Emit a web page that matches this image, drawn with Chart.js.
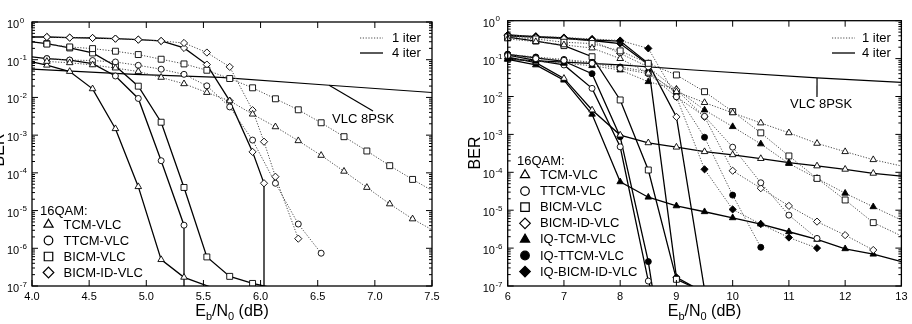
<!DOCTYPE html>
<html>
<head>
<meta charset="utf-8">
<script src="https://cdn.jsdelivr.net/npm/chart.js@4.4.0/dist/chart.umd.min.js"></script>
<style>
html, body { margin: 0; padding: 0; background: #fff; }
#wrap { position: relative; width: 912px; height: 324px; }
#left { position: absolute; left: 0; top: 0; }
#right { position: absolute; left: 455px; top: 0; }
</style>
</head>
<body>
<div id="wrap">
<canvas id="left" width="455" height="324"></canvas>
<canvas id="right" width="457" height="324"></canvas>
</div>
<script>
const FONT = '"Liberation Sans", Arial, Helvetica, sans-serif';

// tick labels
const xTicksL = [4.0, 4.5, 5.0, 5.5, 6.0, 6.5, 7.0, 7.5];
const xTicksR = [6, 7, 8, 9, 10, 11, 12, 13];
const yExps = [0, -1, -2, -3, -4, -5, -6, -7];

const legendL = ['TCM-VLC', 'TTCM-VLC', 'BICM-VLC', 'BICM-ID-VLC'];
const legendR = ['TCM-VLC', 'TTCM-VLC', 'BICM-VLC', 'BICM-ID-VLC', 'IQ-TCM-VLC', 'IQ-TTCM-VLC', 'IQ-BICM-ID-VLC'];

// ---- left panel, [Eb/N0 dB, BER] ----
const vlcL = [[4.0,0.056],[4.9,0.041],[5.65,0.034],[6.6,0.021],[7.5,0.0135]];
const tcm1L = [[4.13,0.09],[4.33,0.083],[4.53,0.073],[4.73,0.06],[4.93,0.0486],[5.13,0.034],[5.33,0.023],[5.53,0.0135],[5.73,0.0081],[5.93,0.0036],[6.13,0.00166],[6.33,0.00071],[6.53,0.00029],[6.73,0.00011],[6.93,4.1e-5],[7.13,1.5e-5],[7.33,6e-6],[7.5,3.1e-6]];
const tcm4L = [[4.0,0.088],[4.13,0.0715],[4.33,0.0487],[4.53,0.0169],[4.73,0.00148],[4.93,4.3e-5],[5.13,5e-7],[5.33,1.7e-7],[5.6,0.85e-7]];
const ttcm1L = [[4.13,0.107],[4.33,0.098],[4.53,0.095],[4.73,0.087],[4.93,0.071],[5.13,0.056],[5.33,0.041],[5.53,0.0203],[5.73,0.0056],[5.93,0.00074],[6.13,5.3e-5],[6.33,4.4e-6],[6.53,7.4e-7]];
const ttcm4L = [[4.0,0.119],[4.13,0.107],[4.33,0.097],[4.53,0.079],[4.73,0.037],[4.93,0.0094],[5.13,0.00021],[5.33,4.1e-6],[5.33,1e-8]];
const bicm1L = [[4.13,0.26],[4.33,0.218],[4.53,0.197],[4.73,0.168],[4.93,0.137],[5.13,0.103],[5.33,0.0774],[5.53,0.0526],[5.73,0.0317],[5.93,0.018],[6.13,0.0092],[6.33,0.0047],[6.53,0.00213],[6.73,0.00091],[6.93,0.00038],[7.13,0.000155],[7.33,6.7e-5],[7.5,3.4e-5]];
const bicm4L = [[4.0,0.296],[4.13,0.267],[4.33,0.205],[4.53,0.151],[4.73,0.0685],[4.93,0.0199],[5.13,0.0022],[5.33,4.1e-5],[5.53,5.9e-7],[5.73,1.8e-7],[5.93,1.17e-7],[6.1,0.9e-7]];
const bicmid1L = [[4.13,0.40],[4.33,0.385],[4.53,0.377],[4.73,0.362],[4.93,0.341],[5.13,0.314],[5.33,0.278],[5.53,0.155],[5.73,0.0645],[5.93,0.0046],[6.03,0.00067],[6.13,7.9e-5],[6.33,1.8e-6]];
const bicmid4L = [[4.0,0.40],[4.13,0.40],[4.33,0.385],[4.53,0.377],[4.73,0.362],[4.93,0.341],[5.13,0.314],[5.33,0.205],[5.53,0.0743],[5.73,0.0081],[5.93,0.00036],[6.03,5.3e-5],[6.03,1e-8]];

// ---- right panel ----
const vlcR = [[6.0,0.095],[8.0,0.068],[9.3,0.05],[11.5,0.031],[13.0,0.0237]];
const tcm1R = [[6.0,0.33],[6.5,0.28],[7.0,0.23],[7.5,0.19],[8.0,0.1],[8.5,0.041],[9.0,0.0134],[9.5,0.0069],[10.0,0.0037],[10.5,0.002],[11.0,0.0011],[11.5,0.00058],[12.0,0.00035],[12.5,0.000215],[13.0,0.000147]];
const tcm4R = [[6.0,0.11],[6.5,0.078],[7.0,0.03],[7.5,0.0044],[8.0,0.00096],[8.5,0.0006],[9.0,0.00046],[9.5,0.00035],[10.0,0.00029],[10.5,0.00023],[11.0,0.00018],[11.5,0.000147],[12.0,0.00012],[12.5,9.4e-5],[13.0,7.9e-5]];
const ttcm1R = [[6.0,0.12],[6.5,0.1],[7.0,0.09],[7.5,0.075],[8.0,0.055],[8.5,0.04],[9.0,0.0098],[9.5,0.003],[10.0,0.00046],[10.5,5.3e-5],[11.0,7.4e-6],[11.5,1.8e-6]];
const ttcm4R = [[6.0,0.124],[6.5,0.09],[7.0,0.068],[7.5,0.0164],[8.0,0.00047],[8.5,1.35e-7],[8.6,0.5e-7]];
const bicm1R = [[6.0,0.37],[6.5,0.33],[7.0,0.27],[7.5,0.25],[8.0,0.16],[8.5,0.075],[9.0,0.037],[9.5,0.0134],[10.0,0.004],[10.5,0.0011],[11.0,0.00027],[11.5,6.9e-5],[12.0,1.86e-5],[12.5,4.7e-6],[13.0,2.1e-6]];
const bicm4R = [[6.0,0.37],[6.5,0.29],[7.0,0.22],[7.5,0.112],[8.0,0.0081],[8.5,0.000115],[9.0,1.5e-7],[9.4,0.8e-7]];
const bicmid1R = [[6.0,0.40],[6.5,0.36],[7.0,0.33],[7.5,0.3],[8.0,0.137],[8.5,0.06],[9.0,0.015],[9.5,0.0029],[10.0,0.00011],[10.5,3.8e-5],[11.0,1.3e-5],[11.5,5e-6],[12.0,2.2e-6],[12.5,8.9e-7]];
const bicmid4R = [[6.0,0.42],[6.5,0.38],[7.0,0.35],[7.5,0.31],[8.0,0.29],[8.5,0.075],[9.0,0.0029],[9.5,0.8e-7]];
const iqtcm1R = [[6.0,0.1],[6.5,0.085],[7.0,0.075],[7.5,0.065],[8.0,0.05],[8.5,0.0246],[9.0,0.0155],[9.5,0.0044],[10.0,0.0016],[10.5,0.00056],[11.0,0.00017],[11.5,6.9e-5],[12.0,2.8e-5],[12.5,1.23e-5],[13.0,5.5e-6]];
const iqtcm4R = [[6.0,0.095],[6.5,0.068],[7.0,0.027],[7.5,0.0034],[8.0,5.6e-5],[8.5,2.2e-5],[9.0,1.3e-5],[9.5,9.1e-6],[10.0,6.3e-6],[10.5,4.3e-6],[11.0,2.7e-6],[11.5,1.7e-6],[12.0,9.6e-7],[12.5,6.9e-7],[13.0,4.4e-7]];
const iqttcm1R = [[6.0,0.13],[6.5,0.11],[7.0,0.095],[7.5,0.08],[8.0,0.06],[8.5,0.045],[9.0,0.012],[9.5,0.00084],[10.0,2.5e-5],[10.5,1.05e-6]];
const iqttcm4R = [[6.0,0.13],[6.5,0.105],[7.0,0.085],[7.5,0.04],[8.0,0.00087],[8.5,4.4e-7],[8.6,0.5e-7]];
const iqbicmid1R = [[6.0,0.42],[6.5,0.39],[7.0,0.36],[7.5,0.33],[8.0,0.3],[8.5,0.186],[9.0,0.0098],[9.5,0.00012],[10.0,1.05e-5],[10.5,4.3e-6],[11.0,1.9e-6],[11.5,1.0e-6]];
const iqbicmid4R = [[6.0,0.4],[6.5,0.37],[7.0,0.34],[7.5,0.3],[8.0,0.25],[8.5,0.07],[9.0,1.7e-7],[9.4,0.8e-7]];

// marker per scheme: [pointStyle, filled]
const MARK = {
  'TCM-VLC': ['triangle', false],
  'TTCM-VLC': ['circle', false],
  'BICM-VLC': ['rect', false],
  'BICM-ID-VLC': ['rectRot', false],
  'IQ-TCM-VLC': ['triangle', true],
  'IQ-TTCM-VLC': ['circle', true],
  'IQ-BICM-ID-VLC': ['rectRot', true]
};
const RAD = { triangle: 3.8, circle: 3, rect: 4.2, rectRot: 3.6 };
const LEGRAD = { triangle: 5.3, circle: 4.3, rect: 6, rectRot: 5.3 };

const seriesL = [
  ['TCM-VLC', 1, tcm1L], ['TTCM-VLC', 1, ttcm1L], ['BICM-VLC', 1, bicm1L], ['BICM-ID-VLC', 1, bicmid1L],
  ['TCM-VLC', 4, tcm4L], ['TTCM-VLC', 4, ttcm4L], ['BICM-VLC', 4, bicm4L], ['BICM-ID-VLC', 4, bicmid4L]
];
const seriesR = [
  ['TCM-VLC', 1, tcm1R], ['TTCM-VLC', 1, ttcm1R], ['BICM-VLC', 1, bicm1R], ['BICM-ID-VLC', 1, bicmid1R],
  ['IQ-TCM-VLC', 1, iqtcm1R], ['IQ-TTCM-VLC', 1, iqttcm1R], ['IQ-BICM-ID-VLC', 1, iqbicmid1R],
  ['TCM-VLC', 4, tcm4R], ['TTCM-VLC', 4, ttcm4R], ['BICM-VLC', 4, bicm4R], ['BICM-ID-VLC', 4, bicmid4R],
  ['IQ-TCM-VLC', 4, iqtcm4R], ['IQ-TTCM-VLC', 4, iqttcm4R], ['IQ-BICM-ID-VLC', 4, iqbicmid4R]
];

const DOT = [1.2, 1.6];

// layout of the two panels (pixels inside each canvas)
const PANELS = {
  left: {
    xmin: 4.0, xmax: 7.5, xticks: xTicksL, markAtMin: false,
    vlc: vlcL, leaderAt: 3, leaderEnd: [373, 111], vlcText: [332, 123],
    iterLine: [360, 383], iterText: 392, iterY: [38, 53],
    legend: legendL, legX: 40, legTitleY: 215, legMarkX: 48.5, legTextX: 63.5, legY0: 224.5, legStep: 16,
    berX: 4, berY: 150
  },
  right: {
    xmin: 6, xmax: 13, xticks: xTicksR, markAtMin: true,
    vlc: vlcR, leaderAt: 3, leaderEnd: [362, 97], vlcText: [335, 107.5],
    iterLine: [377, 400], iterText: 407, iterY: [38, 53],
    legend: legendR, legX: 62, legTitleY: 165, legMarkX: 70, legTextX: 85, legY0: 175, legStep: 16.1,
    berX: 25, berY: 153
  }
};

function datasetsFor(series, P) {
  const sets = series.map(([name, iter, pts]) => {
    const style = MARK[name][0], filled = MARK[name][1];
    return {
      label: name + ' ' + iter + ' iter',
      data: pts.map(p => ({ x: p[0], y: p[1] })),
      showLine: true,
      tension: 0,
      borderColor: iter === 1 ? '#4a4a4a' : '#000',
      borderWidth: iter === 1 ? 1 : 1.3,
      borderDash: iter === 1 ? DOT : [],
      pointStyle: style,
      pointRadius: c => {
        const p = c.raw;
        if (!p || p.y < 1e-7 || p.x >= P.xmax || (p.x <= P.xmin && !P.markAtMin)) return 0;
        return RAD[style];
      },
      pointHoverRadius: 0,
      pointBackgroundColor: filled ? '#000' : '#fff',
      pointBorderColor: '#000',
      pointBorderWidth: 0.9,
      clip: { left: 5, top: 5, right: 0, bottom: 0 }
    };
  });
  sets.push({
    label: 'VLC 8PSK',
    data: P.vlc.map(p => ({ x: p[0], y: p[1] })),
    showLine: true, tension: 0,
    borderColor: '#000', borderWidth: 1.2,
    pointRadius: 0, pointHoverRadius: 0,
    clip: { left: 0, top: 0, right: 0, bottom: 0 }
  });
  return sets;
}

function sub(ctx, parts, x, y) {
  // parts: [text, isSub]
  let w = 0;
  for (const [t, s] of parts) { ctx.font = (s ? '11px ' : '16px ') + FONT; w += ctx.measureText(t).width; }
  let cx = x - w / 2;
  ctx.textAlign = 'left'; ctx.textBaseline = 'alphabetic';
  for (const [t, s] of parts) {
    ctx.font = (s ? '11px ' : '16px ') + FONT;
    ctx.fillText(t, cx, s ? y + 4 : y);
    cx += ctx.measureText(t).width;
  }
}

const decor = {
  id: 'decor',
  afterDatasetsDraw(chart) {
    const P = PANELS[chart.canvas.id];
    const ctx = chart.ctx, a = chart.chartArea, xs = chart.scales.x, ys = chart.scales.y;
    ctx.save();
    ctx.strokeStyle = '#000';
    ctx.fillStyle = '#000';
    ctx.setLineDash([]);

    // frame
    ctx.lineWidth = 1.3;
    ctx.strokeRect(a.left, a.top, a.right - a.left, a.bottom - a.top);

    // inward ticks
    ctx.lineWidth = 1;
    ctx.beginPath();
    for (const e of yExps) {
      const y = ys.getPixelForValue(Math.pow(10, e));
      ctx.moveTo(a.left, y); ctx.lineTo(a.left + 6, y);
      ctx.moveTo(a.right, y); ctx.lineTo(a.right - 6, y);
      if (e < 0) {
        for (let m = 2; m < 10; m++) {
          const ym = ys.getPixelForValue(m * Math.pow(10, e));
          ctx.moveTo(a.left, ym); ctx.lineTo(a.left + 3, ym);
          ctx.moveTo(a.right, ym); ctx.lineTo(a.right - 3, ym);
        }
      }
    }
    for (const v of P.xticks) {
      const x = xs.getPixelForValue(v);
      ctx.moveTo(x, a.bottom); ctx.lineTo(x, a.bottom - 6);
      ctx.moveTo(x, a.top); ctx.lineTo(x, a.top + 6);
    }
    ctx.stroke();

    // y tick labels 10^e
    ctx.textAlign = 'left';
    ctx.textBaseline = 'alphabetic';
    for (const e of yExps) {
      const y = ys.getPixelForValue(Math.pow(10, e));
      ctx.font = '11px ' + FONT;
      const w = ctx.measureText('10').width;
      const x0 = a.left - 25;
      ctx.fillText('10', x0, y + 6);
      ctx.font = '8px ' + FONT;
      ctx.fillText(String(e), x0 + w + 0.5, y + 0.5);
    }

    // axis titles
    sub(ctx, [['E', false], ['b', true], ['/N', false], ['0', true], [' (dB)', false]], (a.left + a.right) / 2, 316);
    ctx.save();
    ctx.translate(P.berX, P.berY);
    ctx.rotate(-Math.PI / 2);
    ctx.font = '16px ' + FONT;
    ctx.textAlign = 'center';
    ctx.textBaseline = 'alphabetic';
    ctx.fillText('BER', 0, 0);
    ctx.restore();

    // VLC 8PSK label with leader
    const lp = P.vlc[P.leaderAt];
    ctx.lineWidth = 1.2;
    ctx.beginPath();
    ctx.moveTo(xs.getPixelForValue(lp[0]), ys.getPixelForValue(lp[1]));
    ctx.lineTo(P.leaderEnd[0], P.leaderEnd[1]);
    ctx.stroke();
    ctx.font = '13px ' + FONT;
    ctx.textAlign = 'left';
    ctx.fillText('VLC 8PSK', P.vlcText[0], P.vlcText[1]);

    // iteration key
    ctx.font = '13px ' + FONT;
    ctx.textBaseline = 'middle';
    ['1 iter', '4 iter'].forEach((t, i) => {
      const y = P.iterY[i];
      ctx.beginPath();
      ctx.strokeStyle = i === 0 ? '#4a4a4a' : '#000';
      ctx.lineWidth = i === 0 ? 1 : 1.3;
      ctx.setLineDash(i === 0 ? DOT : []);
      ctx.moveTo(P.iterLine[0], y); ctx.lineTo(P.iterLine[1], y);
      ctx.stroke();
      ctx.setLineDash([]);
      ctx.fillText(t, P.iterText, y + 0.5);
    });

    // scheme key
    ctx.strokeStyle = '#000';
    ctx.textBaseline = 'alphabetic';
    ctx.fillText('16QAM:', P.legX, P.legTitleY);
    ctx.lineWidth = 1.2;
    P.legend.forEach((name, i) => {
      const y = P.legY0 + i * P.legStep;
      const style = MARK[name][0], filled = MARK[name][1];
      ctx.fillStyle = filled ? '#000' : '#fff';
      Chart.helpers.drawPoint(ctx, { pointStyle: style, radius: LEGRAD[style], rotation: 0, borderWidth: 1.2 }, P.legMarkX, y);
      ctx.fillStyle = '#000';
      ctx.textBaseline = 'middle';
      ctx.fillText(name, P.legTextX, y + 0.5);
    });
    ctx.restore();
  }
};

function makeChart(id, series, pad, fmt) {
  const P = PANELS[id];
  return new Chart(document.getElementById(id), {
    type: 'scatter',
    data: { datasets: datasetsFor(series, P) },
    options: {
      responsive: false,
      animation: false,
      events: [],
      layout: { padding: pad },
      plugins: { legend: { display: false }, tooltip: { enabled: false } },
      scales: {
        x: {
          type: 'linear', min: P.xmin, max: P.xmax,
          afterBuildTicks: s => { s.ticks = P.xticks.map(v => ({ value: v })); },
          afterFit: s => { s.height = 38; },
          grid: { display: false, drawTicks: false },
          border: { display: false },
          ticks: { autoSkip: false, maxRotation: 0, padding: 4.5, color: '#000', font: { family: FONT, size: 11 }, callback: fmt }
        },
        y: { type: 'logarithmic', display: false, min: 1e-7, max: 1 }
      }
    },
    plugins: [decor]
  });
}

makeChart('left', seriesL, { left: 32, right: 23, top: 22, bottom: 0 }, v => v.toFixed(1));
makeChart('right', seriesR, { left: 52.7, right: 9.3, top: 20.7, bottom: 0 }, v => String(v));
</script>
</body>
</html>
